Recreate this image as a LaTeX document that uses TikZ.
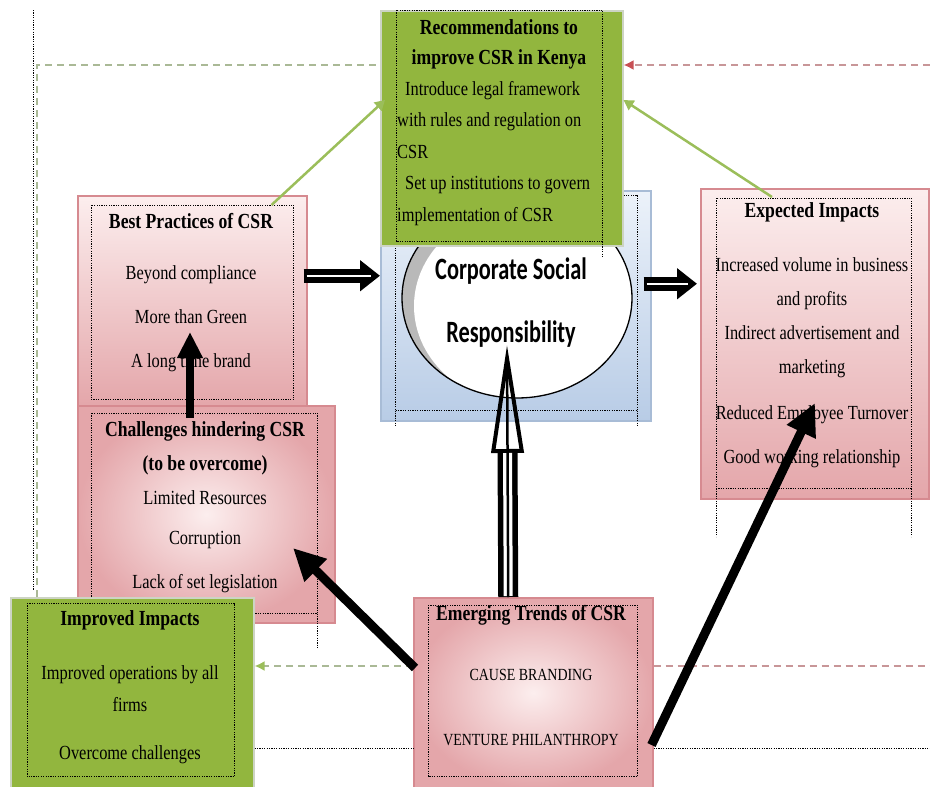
\documentclass[tikz,border=0pt]{standalone}
\usepackage{fontspec}
\setmainfont{Liberation Serif}[FakeStretch=0.82]
\newfontfamily\csrfont{Carlito}[FakeStretch=0.72]
\usepackage{xcolor}
\usetikzlibrary{positioning, arrows.meta, shapes.geometric}
\definecolor{olivegreen}{RGB}{146,182,62}
\definecolor{greenedge}{RGB}{205,212,196}
\definecolor{pinkdark}{RGB}{228,166,170}
\definecolor{pinklight}{RGB}{252,238,238}
\definecolor{pinkedge}{RGB}{214,138,144}
\definecolor{bluetop}{RGB}{236,242,250}
\definecolor{bluebottom}{RGB}{184,204,230}
\definecolor{blueedge}{RGB}{168,188,214}
\definecolor{linkgreen}{RGB}{155,190,90}
\definecolor{dashgreen}{RGB}{170,185,150}
\definecolor{dashred}{RGB}{200,150,152}
\definecolor{tipred}{RGB}{200,80,85}
\newcommand{\boxhead}[1]{{\fontsize{21.5}{21.5}\selectfont\bfseries #1}}

\begin{document}
\begin{tikzpicture}[x=1pt,y=-1pt,
  box/.style={rectangle, anchor=north west, inner sep=0pt, line width=1.5pt},
  greenbox/.style={box, fill=olivegreen, draw=greenedge},
  pinkbox/.style={box, draw=pinkedge, top color=pinklight, bottom color=pinkdark},
  pinkglow/.style={box, draw=pinkedge, shading=radial, inner color=pinklight, outer color=pinkdark},
  bluebox/.style={box, draw=blueedge, top color=bluetop, bottom color=bluebottom},
  boxtext/.style={inner sep=0pt, align=center, anchor=north},
  dotframe/.style={dash pattern=on 1.2pt off 1.2pt, line width=1pt},
  hollow/.style={line width=14pt, -{Triangle[length=20pt, width=30pt]},
                 postaction={draw=white, line width=1.8pt, -, shorten >=9pt, shorten <=3pt}},
  hollowup/.style={line width=20pt, -{Triangle[open, length=108pt, width=32pt, line width=4pt]},
                   postaction={draw=white, line width=9pt, -, shorten >=108pt, shorten <=1pt},
                   postaction={draw=black, line width=2.5pt, -, shorten >=12pt}},
  bigarrow/.style={line width=9pt, -{Triangle[length=32pt, width=30pt]}},
  greenlink/.style={draw=linkgreen, line width=2.5pt, -{Triangle[length=10pt, width=11pt]}},
  greendash/.style={draw=dashgreen, dash pattern=on 7pt off 5pt, line width=2pt},
  reddash/.style={draw=dashred, dash pattern=on 7pt off 5pt, line width=2pt}]

  \useasboundingbox (0,0) rectangle (930,787);

  %% free ends of the frame lines
  \coordinate (leftcap) at (33,10);
  \coordinate (leftfoot) at (33,590);
  \coordinate (topleft) at (37,65);
  \coordinate (topright) at (930,65);
  \coordinate (dashright) at (930,666);
  \coordinate (lineright) at (930,748);
  \draw[dotframe] (leftcap) -- (leftfoot);

  %% Centre
  \node[bluebox, minimum width=270pt, minimum height=230pt] (csrbox) at (380,190) {};
  \draw[dotframe] ([shift={(15,5)}]csrbox.north west) rectangle ([shift={(-14,-11)}]csrbox.south east);
  \draw[dotframe] ([shift={(15,-11)}]csrbox.south west) -- ++(0,16);
  \draw[dotframe] ([shift={(-14,-11)}]csrbox.south east) -- ++(0,16);
  \node[ellipse, draw, line width=1.3pt, fill=gray!55, minimum width=230pt, minimum height=200pt,
        path picture={\fill[white] ([shift={(12,8)}]path picture bounding box.center) ellipse (115 and 100);}]
    (csr) at (517,298) {};
  \node[boxtext, font=\csrfont\bfseries\fontsize{31}{63}\selectfont] (csrText) at (511,258)
    {Corporate Social\\Responsibility};

  %% Recommendations
  \node[greenbox, minimum width=242pt, minimum height=235pt] (rec) at (380,10) {};
  \draw[dotframe] ([shift={(16,0)}]rec.north west) rectangle ([shift={(-21,-5)}]rec.south east);
  \draw[dotframe] ([shift={(-21,-5)}]rec.south east) -- ++(0,15);
  \node[boxtext, font=\fontsize{20}{30}\selectfont] (recTitle) at (499,19)
    {\boxhead{Recommendations to}\\\boxhead{improve CSR in Kenya}};
  \node[boxtext, anchor=north west, align=left, font=\fontsize{20}{31.5}\selectfont] (recText) at (397,81)
    {\hspace*{8pt}Introduce legal framework\\with rules and regulation on\\CSR\\
     \hspace*{8pt}Set up institutions to govern\\implementation of CSR};

  %% Best practices
  \node[pinkbox, minimum width=229pt, minimum height=210pt] (best) at (77,195) {};
  \draw[dotframe] ([shift={(14,10)}]best.north west) rectangle ([shift={(-14,-7)}]best.south east);
  \node[boxtext, font=\fontsize{20}{44}\selectfont] (bestText) at (191,213)
    {\boxhead{Best Practices of CSR}\\[7pt]Beyond compliance\\More than Green\\A long time brand};

  %% Challenges
  \node[pinkglow, minimum width=257pt, minimum height=217pt] (chal) at (77,405) {};
  \draw[dotframe] ([shift={(14,8)}]chal.north west) rectangle ([shift={(-18,-10)}]chal.south east);
  \draw[dotframe] ([shift={(-18,-10)}]chal.south east) -- ++(0,35);
  \node[boxtext, font=\fontsize{20}{34}\selectfont] (chalText) at (205,421)
    {\boxhead{Challenges hindering CSR}\\\boxhead{(to be overcome)}\\Limited Resources\\[6pt]
     Corruption\\[10pt]Lack of set legislation};

  %% Expected impacts
  \node[pinkbox, minimum width=228pt, minimum height=310pt] (expect) at (700,188) {};
  \draw[dotframe] ([shift={(16,10)}]expect.north west) rectangle ([shift={(-18,-11)}]expect.south east);
  \draw[dotframe] ([shift={(16,-11)}]expect.south west) -- ++(0,48);
  \draw[dotframe] ([shift={(-18,-11)}]expect.south east) -- ++(0,48);
  \node[boxtext, font=\fontsize{20}{34}\selectfont] (expectText) at (812,202)
    {\boxhead{Expected Impacts}\\[20pt]Increased volume in business\\and profits\\
     Indirect advertisement and\\marketing\\[12pt]Reduced Employee Turnover\\[10pt]Good working relationship};

  %% Improved impacts
  \node[greenbox, minimum width=243pt, minimum height=190pt] (improved) at (10,597) {};
  \draw[dotframe] ([shift={(17,6)}]improved.north west) rectangle ([shift={(-20,-12)}]improved.south east);
  \node[boxtext, font=\fontsize{20}{32}\selectfont] (improvedText) at (130,610)
    {\boxhead{Improved Impacts}\\[22pt]Improved operations by all\\firms\\[16pt]Overcome challenges};

  %% Emerging trends
  \node[pinkglow, minimum width=239pt, minimum height=190pt] (emerging) at (413,597) {};
  \draw[dotframe] ([shift={(15,8)}]emerging.north west) rectangle ([shift={(-16,-12)}]emerging.south east);
  \node[boxtext, font=\fontsize{17}{60}\selectfont] (emergingText) at (531,605)
    {\boxhead{Emerging Trends of CSR}\\CAUSE BRANDING\\[5pt]VENTURE PHILANTHROPY};

  %% Dashed and dotted loops
  \draw[greendash] (improved.north -| topleft) -- (topleft) -- (topleft -| rec.west);
  \draw[reddash, -{Latex[length=10pt, width=10pt, color=tipred]}] (topright) -- (topright -| rec.east);
  \draw[greendash, -{Latex[length=10pt, width=10pt, color=linkgreen]}] (dashright -| emerging.west) -- (dashright -| improved.east);
  \draw[reddash] (dashright -| emerging.east) -- (dashright);
  \draw[dotframe] (lineright -| improved.east) -- (lineright -| emerging.west);
  \draw[dotframe] (lineright -| emerging.east) -- (lineright);

  %% Arrows
  \draw[hollow] ([shift={(-4,-25)}]best.east) -- ([shift={(0,-30)}]csrbox.west);
  \draw[hollow] ([shift={(-8,-22)}]csrbox.east) -- ([shift={(-3,-60)}]expect.west);
  \draw[hollowup] ([shift={(-25,0)}]emerging.north) -- ([shift={(-10,47)}]csr.center);
  \draw[bigarrow, line width=8pt, -{Triangle[length=26pt, width=24pt]}]
    ([shift={(113,13)}]chal.north west) -- ([shift={(113,137)}]best.north west);
  \draw[bigarrow] ([shift={(2,71)}]emerging.north west) -- ([shift={(216,143)}]chal.north west);
  \draw[bigarrow] ([shift={(-2,148)}]emerging.north east) -- ([shift={(115,215)}]expect.north west);
  \draw[greenlink] ([shift={(-36,10)}]best.north east) -- ([shift={(5,90)}]rec.north west);
  \draw[greenlink] ([shift={(72,9)}]expect.north west) -- ([shift={(0,90)}]rec.north east);
\end{tikzpicture}
\end{document}
